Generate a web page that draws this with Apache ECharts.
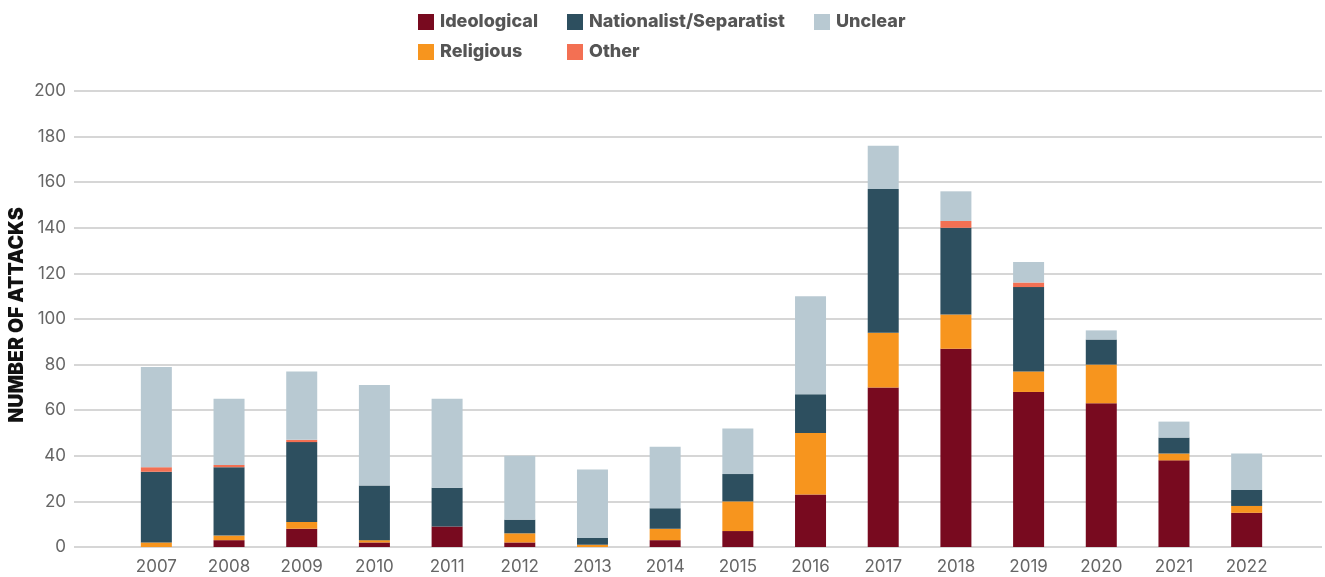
<!DOCTYPE html>
<html>
<head>
<meta charset="utf-8">
<script src="https://cdn.jsdelivr.net/npm/echarts@6/dist/echarts.min.js"></script>
<style>
  html, body { margin: 0; padding: 0; background: #ffffff; }
  #chart { width: 1325px; height: 577px; }
</style>
</head>
<body>
<div id="chart"></div>
<script>
// Attacks per year, split by motive
const years = ['2007','2008','2009','2010','2011','2012','2013','2014','2015','2016','2017','2018','2019','2020','2021','2022'];
const ideological = [0, 3, 8, 2, 9, 2, 0, 3, 7, 23, 70, 87, 68, 63, 38, 15];
const religious   = [2, 2, 3, 1, 0, 4, 1, 5, 13, 27, 24, 15, 9, 17, 3, 3];
const nationalist = [31, 30, 35, 24, 17, 6, 3, 9, 12, 17, 63, 38, 37, 11, 7, 7];
const other       = [2, 1, 1, 0, 0, 0, 0, 0, 0, 0, 0, 3, 2, 0, 0, 0];
const unclear     = [44, 29, 30, 44, 39, 28, 30, 27, 20, 43, 19, 13, 9, 4, 7, 16];
const yTicks = { min: 0, max: 200, interval: 20 };
const yTitle = 'NUMBER OF ATTACKS';

const colors = {
  'Ideological': '#780a1f',
  'Religious': '#f7951e',
  'Nationalist/Separatist': '#2d4f5f',
  'Other': '#f37053',
  'Unclear': '#b8c9d2'
};

const chart = echarts.init(document.getElementById('chart'), null, { renderer: 'canvas' });

const legendBase = {
  orient: 'vertical',
  top: 13,
  padding: 0,
  icon: 'rect',
  itemWidth: 16,
  itemHeight: 16,
  itemGap: 12,
  selectedMode: false,
  textStyle: { fontFamily: 'Inter', fontWeight: 800, fontSize: 18, color: '#555555', padding: [0, 0, 0, 1] }
};

function barSeries(name, data) {
  return {
    name: name,
    type: 'bar',
    stack: 'total',
    xAxisIndex: 1,
    yAxisIndex: 1,
    barWidth: 31,
    itemStyle: { color: colors[name] },
    emphasis: { disabled: true },
    data: data
  };
}

chart.setOption({
  animation: false,
  legend: [
    Object.assign({}, legendBase, { left: 418, data: ['Ideological', 'Religious'] }),
    Object.assign({}, legendBase, { left: 567, data: ['Nationalist/Separatist', 'Other'] }),
    Object.assign({}, legendBase, { left: 814, data: ['Unclear'] })
  ],
  // rotated value-axis title
  graphic: [{
    type: 'text',
    x: 17,
    y: 315,
    rotation: Math.PI / 2,
    style: {
      text: yTitle,
      fontFamily: 'Inter',
      fontWeight: 900,
      fontSize: 19.5,
      fill: '#111111',
      align: 'center',
      verticalAlign: 'middle'
    }
  }],
  grid: [
    // wide grid carrying the value axis and its gridlines
    { left: 74, right: 3, top: 91, bottom: 30, outerBoundsMode: 'none' },
    // narrower grid holding the bars
    { left: 120, right: 42, top: 91, bottom: 30, outerBoundsMode: 'none' }
  ],
  xAxis: [
    { type: 'value', gridIndex: 0, show: false, min: 0, max: 1 },
    {
      type: 'category',
      gridIndex: 1,
      data: years,
      axisLine: { show: false },
      axisTick: { show: false },
      axisLabel: { margin: 11, fontFamily: 'Inter', fontSize: 17, color: '#666666' }
    }
  ],
  yAxis: [
    {
      type: 'value',
      gridIndex: 0,
      min: yTicks.min,
      max: yTicks.max,
      interval: yTicks.interval,
      axisLine: { show: false },
      axisTick: { show: false },
      axisLabel: { margin: 8, fontFamily: 'Inter', fontSize: 17, color: '#666666' },
      splitLine: { lineStyle: { color: '#c9c9c9', width: 1.5 } }
    },
    {
      type: 'value',
      gridIndex: 1,
      min: yTicks.min,
      max: yTicks.max,
      interval: yTicks.interval,
      show: false,
      splitLine: { show: false }
    }
  ],
  series: [
    barSeries('Ideological', ideological),
    barSeries('Religious', religious),
    barSeries('Nationalist/Separatist', nationalist),
    barSeries('Other', other),
    barSeries('Unclear', unclear)
  ]
});
</script>
</body>
</html>
